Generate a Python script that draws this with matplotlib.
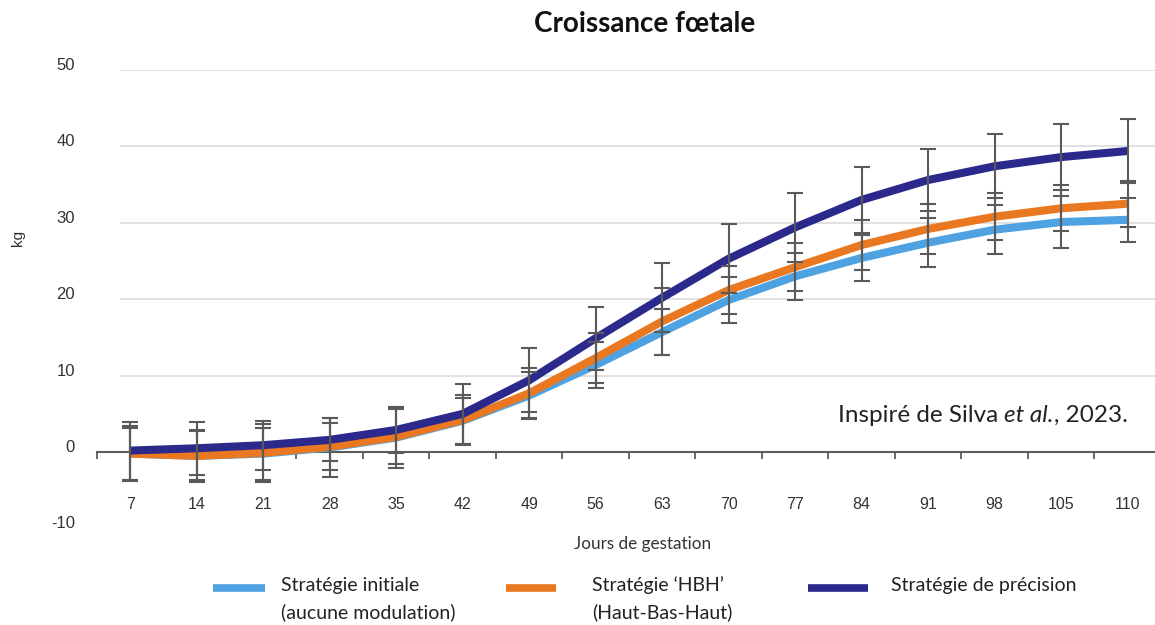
import numpy as np
import matplotlib
matplotlib.use("Agg")
import matplotlib.pyplot as plt
from matplotlib.lines import Line2D
from matplotlib.transforms import ScaledTranslation

# DATA
DAYS = ["7", "14", "21", "28", "35", "42", "49", "56", "63", "70", "77", "84", "91", "98", "105", "110"]

INITIALE = [-0.2, -0.5, -0.2, 0.6, 1.9, 4.1, 7.4, 11.4, 15.7, 19.9, 23.0, 25.4, 27.4, 29.1, 30.1, 30.4]
HBH = [-0.2, -0.5, -0.1, 0.7, 2.0, 4.2, 7.7, 12.3, 17.1, 21.2, 24.2, 27.1, 29.2, 30.8, 31.9, 32.5]
PRECISION = [0.2, 0.5, 0.9, 1.6, 2.9, 5.0, 9.4, 14.9, 20.2, 25.3, 29.4, 33.0, 35.6, 37.4, 38.6, 39.4]

INITIALE_ERR = [3.4, 3.2, 3.4, 3.9, 4.0, 3.0, 3.1, 3.0, 3.0, 3.0, 3.1, 3.0, 3.2, 3.2, 3.4, 2.9]
HBH_ERR = [3.6, 3.4, 3.8, 3.1, 3.6, 3.3, 3.3, 3.3, 4.4, 3.1, 3.1, 3.3, 3.3, 3.1, 3.0, 3.0]
PRECISION_ERR = [3.8, 3.5, 3.2, 2.8, 3.0, 3.9, 4.2, 4.1, 4.5, 4.5, 4.5, 4.3, 4.1, 4.2, 4.3, 4.2]

LABELS = ["Stratégie initiale\n(aucune modulation)",
          "Stratégie \u2018HBH\u2019\n(Haut-Bas-Haut)",
          "Stratégie de précision"]
COLORS = ["#4EA2E2", "#EA7820", "#2B2A8C"]

Y_TICKS = [-10, 0, 10, 20, 30, 40, 50]

# FIGURE
W, H = 1155, 625
fig = plt.figure(figsize=(W / 100, H / 100), dpi=100)

def px(x, y):
    return x / W, 1 - y / H

ax_left, ax_top, ax_bottom = 97, 70, 528.5
ax = fig.add_axes([ax_left / W, (H - ax_bottom) / H, 1 - ax_left / W, (ax_bottom - ax_top) / H])

x = np.arange(len(DAYS))
ax.set_xlim(-0.5, (W - 130) / 66.5)
ax.set_ylim(-10, 50)

# gridlines
ax.hlines([10, 20, 30, 40, 50], -0.15, len(DAYS), color="#dcdcdc", lw=1.2, zorder=1)

# curves
series = [INITIALE, HBH, PRECISION]
errs = [INITIALE_ERR, HBH_ERR, PRECISION_ERR]
for vals, col in zip(series, COLORS):
    ax.plot(x, vals, color=col, lw=5.8, solid_capstyle="butt", solid_joinstyle="round", zorder=3)

for vals, err in zip(series, errs):
    ax.errorbar(x, vals, yerr=err, fmt="none", ecolor="#5a5a5a", elinewidth=1.5,
                capsize=5.5, capthick=1.5, zorder=4)

# axes styling
for s in ["left", "right", "top"]:
    ax.spines[s].set_visible(False)
ax.spines["bottom"].set_position(("data", 0))
ax.spines["bottom"].set_color("#5a5a5a")
ax.spines["bottom"].set_linewidth(1.5)
ax.spines["bottom"].set_zorder(2)

ax.set_xticks(np.arange(-0.5, len(DAYS) - 0.5, 1))
ax.set_xticklabels([])
ax.tick_params(axis="x", which="major", direction="out", length=5, width=1.3, color="#5a5a5a")
ax.set_xticks(x, minor=True)
ax.set_xticklabels(DAYS, minor=True, fontsize=11.5, color="#333333", family="Liberation Sans")
ax.tick_params(axis="x", which="minor", length=0, pad=32)

ax.set_yticks(Y_TICKS)
ax.set_yticklabels([str(v) for v in Y_TICKS], fontsize=12, color="#333333", family="Liberation Sans")
ax.tick_params(axis="y", length=0, pad=16)
offset = ScaledTranslation(0, 6 / 100, fig.dpi_scale_trans)
for lab in ax.get_yticklabels():
    lab.set_transform(lab.get_transform() + offset)

# texts
fig.text(*px(645, 24), "Croissance fœtale", ha="center", va="center",
         fontsize=20, fontweight="bold", family="Lato", color="#111111")
fig.text(*px(18, 238), "kg", ha="center", va="center", rotation=90,
         fontsize=11, family="Liberation Sans", color="#333333")
fig.text(*px(643, 544), "Jours de gestation", ha="center", va="center",
         fontsize=12.3, family="Lato", color="#333333")

t1 = fig.text(*px(838, 415), "Inspiré de Silva ", ha="left", va="center",
              fontsize=17.5, family="Lato", color="#222222")
t2 = fig.text(0, 0, "et al.", fontsize=17.5, family="Lato", style="italic", color="#222222")
t3 = fig.text(0, 0, ", 2023.", fontsize=17.5, family="Lato", color="#222222")
fig.canvas.draw()
r = fig.canvas.get_renderer()
bb1 = t1.get_window_extent(r)
t2.set_position(fig.transFigure.inverted().transform((bb1.x1, bb1.y0)))
t2.set_va("bottom")
fig.canvas.draw()
bb2 = t2.get_window_extent(r)
t3.set_position(fig.transFigure.inverted().transform((bb2.x1, bb1.y0)))
t3.set_va("bottom")

# legend
leg_lines = [(213, 265, 281), (506, 556, 592), (808, 868, 891)]
for (x0, x1, tx), col, lab in zip(leg_lines, COLORS, LABELS):
    fig.add_artist(Line2D([x0 / W, x1 / W], [1 - 588 / H] * 2, color=col, lw=5.5,
                          transform=fig.transFigure, solid_capstyle="butt"))
    for i, line in enumerate(lab.split("\n")):
        fig.text(*px(tx, 585 + 27 * i), line, ha="left", va="center",
                 fontsize=14, family="Lato", color="#222222")

fig.savefig("out.png", dpi=100)
